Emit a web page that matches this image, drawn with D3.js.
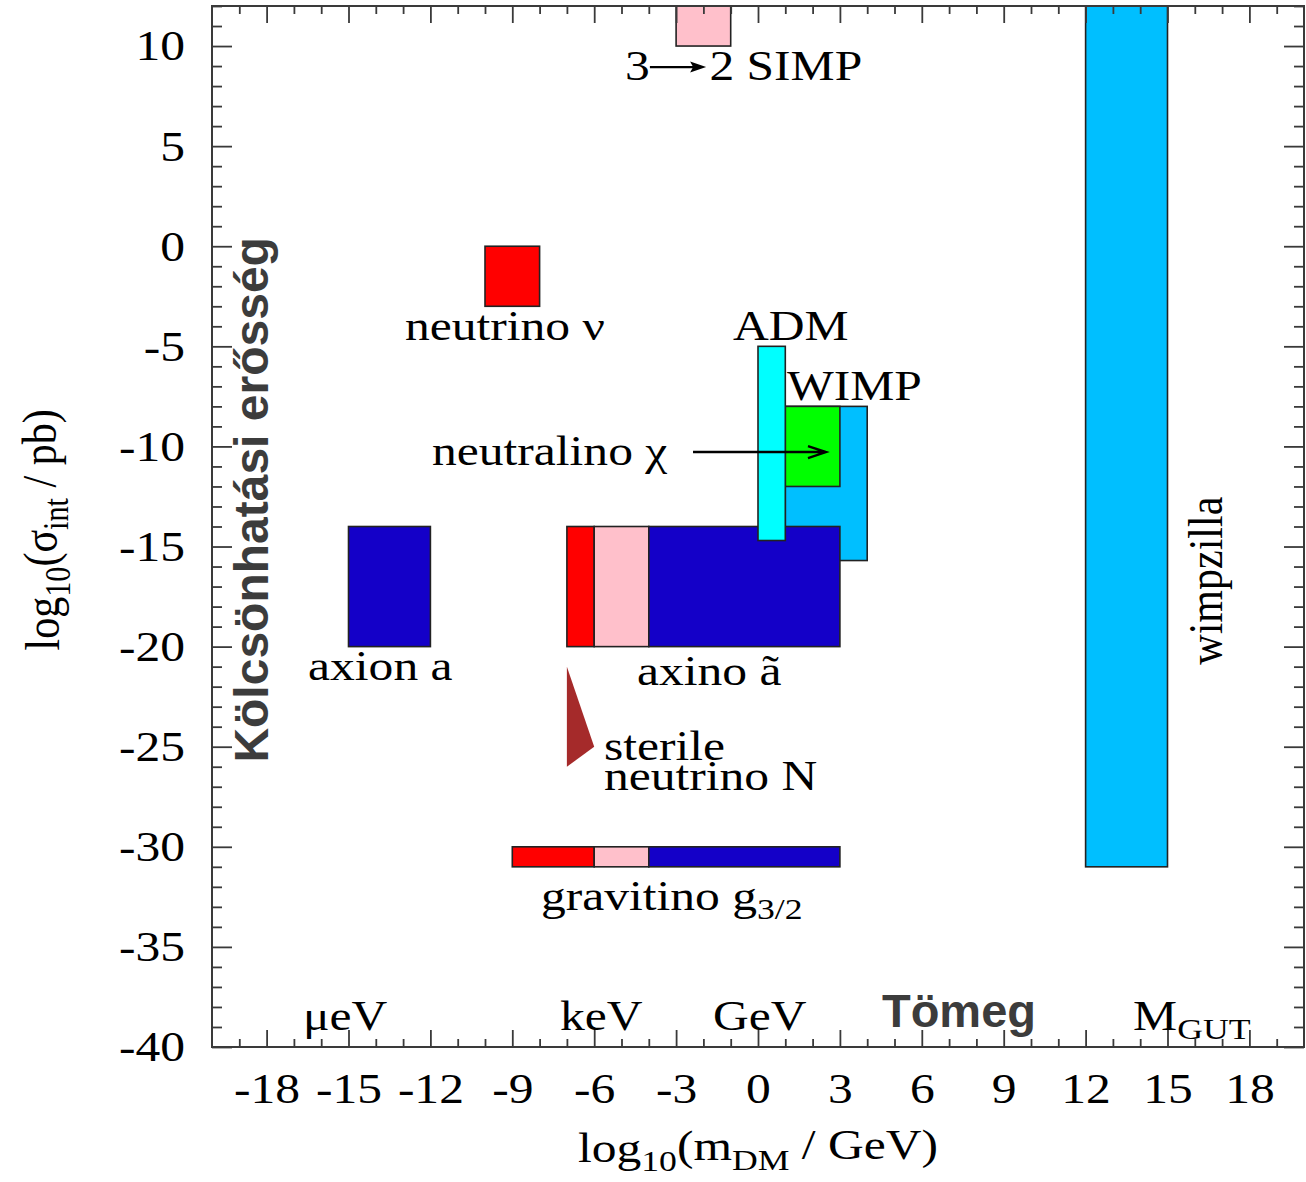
<!DOCTYPE html>
<html><head><meta charset="utf-8">
<script src="https://cdn.jsdelivr.net/npm/d3@7"></script>
<style>
html,body{margin:0;padding:0;background:#fff;}
svg{display:block;}
</style></head>
<body>
<svg id="c" width="1306" height="1182"></svg>
<script>
// ---------- data ----------
const xMajorTicks = d3.range(-18, 19, 3);
const yMajorTicks = d3.range(-40, 11, 5);
const xMinorTicks = d3.range(-19, 20, 1).filter(v => v % 3 !== 0);
const yMinorTicks = d3.range(-40, 13, 1).filter(v => v % 5 !== 0);

// candidate regions: log10(mass/GeV) range and log10(sigma/pb) range
const regionName  = ["wimpzilla","SIMP","neutrino","axion","WIMP","neutralino","axino1","axino2","axino3","ADM","gravitino1","gravitino2","gravitino3"];
const regionMLo   = [12, -3, -10, -15, 1, 1, -7, -6, -4, 0, -9, -6, -4];
const regionMHi   = [15, -1,  -8, -12, 4, 3, -6, -4,  3, 1, -6, -4,  3];
const regionSLo   = [-31, 10, -3, -20, -15.7, -12, -20, -20, -20, -14.7, -31, -31, -31];
const regionSHi   = [12, 12,  0, -14,  -8,   -8, -14, -14, -14, -5, -30, -30, -30];
const regionKind  = ["lightblue","pink","red","blue","lightblue","green","red","pink","blue","cyan","red","pink","blue"];

// sterile neutrino triangle
const sterileM = [-7, -6, -7];
const sterileS = [-21, -25, -26];

// ---------- styles ----------
const kindColor = {red:"#ff0000", pink:"#ffc0cb", blue:"#1400c8", lightblue:"#00bfff", cyan:"#00ffff", green:"#00ff00"};
const SX = 1.18;             // horizontal stretch of serif glyphs
const SERIF = "'Liberation Serif','Times New Roman',serif";
const SANS = "'Liberation Sans',Arial,sans-serif";
const FS = 42;
const fmt = d => String(d);

const svg = d3.select("#c");
const x = d3.scaleLinear().domain([-20, 20]).range([212, 1304]);
const y = d3.scaleLinear().domain([-40, 12]).range([1047, 6]);

// ---------- regions ----------
const gR = svg.append("g");
gR.selectAll("rect").data(d3.range(regionName.length)).join("rect")
  .attr("x", i => x(regionMLo[i]))
  .attr("y", i => y(regionSHi[i]))
  .attr("width", i => x(regionMHi[i]) - x(regionMLo[i]))
  .attr("height", i => y(regionSLo[i]) - y(regionSHi[i]))
  .attr("fill", i => kindColor[regionKind[i]])
  .attr("stroke", "#222").attr("stroke-width", 1.6);

svg.append("path")
  .attr("d", d3.line()(sterileM.map((m, i) => [x(m), y(sterileS[i])])) + "Z")
  .attr("fill", "#a52a2a");

// ---------- frame and ticks ----------
const tickColor = "#3a3a3a";
function styleAxis(g) {
  g.select(".domain").remove();
  g.selectAll(".tick line").attr("stroke", tickColor).attr("stroke-width", 1.8);
}
svg.append("g").attr("transform", `translate(0,${y(-40)})`)
  .call(d3.axisBottom(x).tickValues(xMajorTicks).tickSize(-17).tickFormat(fmt))
  .call(styleAxis)
  .call(g => g.selectAll(".tick text")
      .attr("y", 56).attr("dy", 0).attr("x", 0)
      .attr("transform", `scale(${SX},1)`)
      .attr("font-family", SERIF).attr("font-size", FS).attr("fill", "#000"));
svg.append("g").attr("transform", `translate(0,${y(-40)})`)
  .call(d3.axisBottom(x).tickValues(xMinorTicks).tickSize(-8).tickFormat(""))
  .call(styleAxis);
svg.append("g").attr("transform", `translate(0,${y(12)})`)
  .call(d3.axisTop(x).tickValues(xMajorTicks).tickSize(-17).tickFormat(""))
  .call(styleAxis);
svg.append("g").attr("transform", `translate(0,${y(12)})`)
  .call(d3.axisTop(x).tickValues(xMinorTicks).tickSize(-8).tickFormat(""))
  .call(styleAxis);

svg.append("g").attr("transform", `translate(${x(-20)},0)`)
  .call(d3.axisLeft(y).tickValues(yMajorTicks).tickSize(-20).tickFormat(fmt))
  .call(styleAxis)
  .call(g => g.selectAll(".tick text")
      .attr("x", 0).attr("dy", "0.33em")
      .attr("transform", `translate(-27,0) scale(${SX},1)`)
      .attr("font-family", SERIF).attr("font-size", FS).attr("fill", "#000"));
svg.append("g").attr("transform", `translate(${x(-20)},0)`)
  .call(d3.axisLeft(y).tickValues(yMinorTicks).tickSize(-10).tickFormat(""))
  .call(styleAxis);
svg.append("g").attr("transform", `translate(${x(20)},0)`)
  .call(d3.axisRight(y).tickValues(yMajorTicks).tickSize(-20).tickFormat(""))
  .call(styleAxis);
svg.append("g").attr("transform", `translate(${x(20)},0)`)
  .call(d3.axisRight(y).tickValues(yMinorTicks).tickSize(-10).tickFormat(""))
  .call(styleAxis);

svg.append("rect")
  .attr("x", x(-20)).attr("y", y(12))
  .attr("width", x(20) - x(-20)).attr("height", y(-40) - y(12))
  .attr("fill", "none").attr("stroke", tickColor).attr("stroke-width", 2);

// ---------- labels ----------
// each label: parts [text, kind], kind: "sub" subscript, "br" new line
const labelParts = [
  [["3"]],
  [["2 SIMP"]],
  [["neutrino ν"]],
  [["ADM"]],
  [["WIMP"]],
  [["neutralino χ"]],
  [["axion a"]],
  [["axino ã"]],
  [["sterile"], ["neutrino N", "br"]],
  [["gravitino g"], ["3/2", "sub"]],
  [["μeV"]],
  [["keV"]],
  [["GeV"]],
  [["M"], ["GUT", "sub"]],
  [["log"], ["10", "sub"], ["(m"], ["DM", "sub"], [" / GeV)"]],
  [["log"], ["10", "sub"], ["(σ"], ["int", "sub"], [" / pb)"]],
  [["wimpzilla"]]
];
const labelM = [-4.87, -1.78, -12.93, -0.92, 1.06, -11.94, -16.48, -4.43, -5.64, -7.95, -16.67, -7.25, -1.65, 13.74, 0.0, -25.6, 17.0];
const labelS = [8.3, 8.3, -4.68, -4.68, -7.68, -10.93, -21.67, -21.92, -25.66, -33.16, -39.15, -39.15, -39.15, -39.15, -45.74, -14.17, -20.9];
const labelRot = [0,0,0,0,0,0,0,0,0,0,0,0,0,0,0,-90,-90];
const labelAnchor = ["start","start","start","start","start","start","start","start","start","start","start","start","start","start","middle","middle","start"];

const gL = svg.append("g").attr("font-family", SERIF).attr("font-size", FS).attr("fill", "#000");
labelParts.forEach((parts, i) => {
  const rot = labelRot[i];
  const tf = rot === 0
    ? `translate(${x(labelM[i])},${y(labelS[i])}) scale(${SX},1)`
    : `translate(${x(labelM[i])},${y(labelS[i])}) rotate(${rot}) scale(1,${SX})`;
  const t = gL.append("text").attr("transform", tf).attr("text-anchor", labelAnchor[i]);
  let shifted = false;
  parts.forEach(p => {
    const ts = t.append("tspan").text(p[0]);
    if (p[1] === "sub") { ts.attr("font-size", FS * 0.72).attr("dy", shifted ? 0 : "0.3em"); shifted = true; }
    else if (p[1] === "br") { ts.attr("x", 0).attr("dy", 30); }
    else if (shifted) { ts.attr("dy", "-0.25em"); shifted = false; }
  });
});

// arrow 3 -> 2 (SIMP)
const simpArrowM = [-3.96, -1.9];
const simpArrowS = 8.95;
svg.append("line")
  .attr("x1", x(simpArrowM[0])).attr("x2", x(simpArrowM[1]) - 12)
  .attr("y1", y(simpArrowS)).attr("y2", y(simpArrowS))
  .attr("stroke", "#000").attr("stroke-width", 2.2);
svg.append("path")
  .attr("d", `M${x(simpArrowM[1])},${y(simpArrowS)} l-16,-5.5 l3,5.5 l-3,5.5 Z`)
  .attr("fill", "#000");

// neutralino arrow
const neuArrowM = [-2.38, 2.49];
const neuArrowS = -10.28;
svg.append("path")
  .attr("d", `M${x(neuArrowM[0])},${y(neuArrowS)} H${x(neuArrowM[1])} M${x(neuArrowM[1]) - 18},${y(neuArrowS) - 6} L${x(neuArrowM[1])},${y(neuArrowS)} L${x(neuArrowM[1]) - 18},${y(neuArrowS) + 6}`)
  .attr("fill", "none").attr("stroke", "#000").attr("stroke-width", 2.4);

// grey bold annotations
const greyText = ["Tömeg", "Kölcsönhatási erősség"];
const greyM = [4.54, -17.95];
const greyS = [-39.0, -12.67];
const greyRot = [0, -90];
const greyAnchor = ["start", "middle"];
const greySize = [47, 48];
greyText.forEach((s, i) => {
  svg.append("text")
    .attr("transform", `translate(${x(greyM[i])},${y(greyS[i])}) rotate(${greyRot[i]})`)
    .attr("text-anchor", greyAnchor[i])
    .attr("font-family", SANS).attr("font-weight", "bold").attr("font-size", greySize[i])
    .attr("fill", "#3c3c3c").text(s);
});
</script>
</body></html>
